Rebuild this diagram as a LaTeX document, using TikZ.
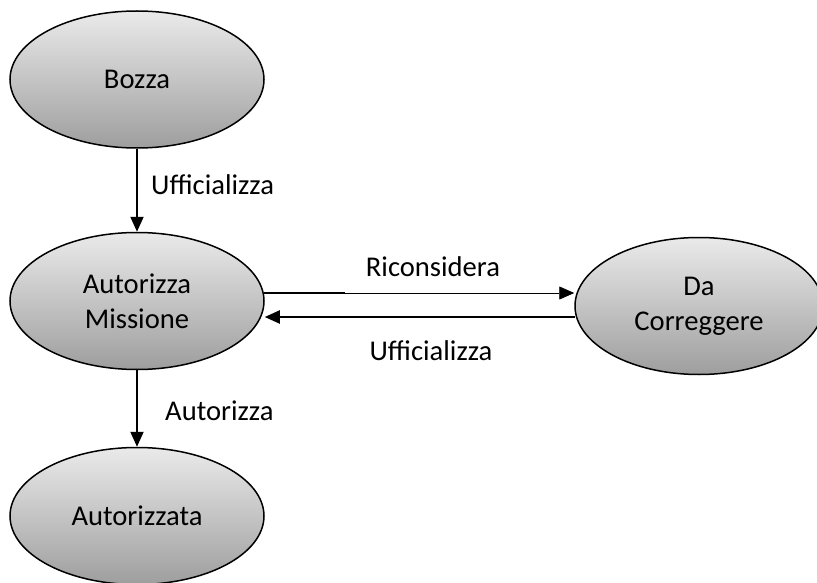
\documentclass[tikz,border=0pt]{standalone}
\usepackage{fontspec}
\setmainfont{Carlito}
\usetikzlibrary{shapes.geometric,arrows.meta}
\definecolor{topc}{RGB}{234,234,234}
\definecolor{botc}{RGB}{158,158,158}
\tikzset{
  state/.style={ellipse,draw=black,line width=1.5pt,top color=topc,bottom color=botc,
    minimum width=254pt,minimum height=137pt,inner sep=0pt,align=center,
    font=\fontsize{28.6}{35}\selectfont},
  lbl/.style={font=\fontsize{28.6}{35}\selectfont,inner sep=0pt},
  conn/.style={line width=2pt,-{Triangle[length=15pt,width=13pt]}},
}
\begin{document}
\begin{tikzpicture}[x=1pt,y=-1pt]
\useasboundingbox (0,0) rectangle (817,583);
\node[state] (bozza) at (137,79.5) {Bozza};
\node[state] (am) at (137,301) {Autorizza\\Missione};
\node[state] (aut) at (137,516) {Autorizzata};
\node[state,minimum width=248pt] (dc) at (699,306) {Da\\Correggere};
% vertical arrows
\draw[conn] (bozza) -- (am);
\draw[conn] (am) -- (aut);
% horizontal arrows
\coordinate (r1) at (264,293);
\coordinate (r2) at (345,293);
\coordinate (u1) at (575,317);
\draw[line width=2pt] (r1) -- (r2);
\draw[line width=0.8pt,-{Triangle[length=15pt,width=13pt]}] (r2) -- (r2 -| dc.west);
\draw[conn] (u1) -- (u1 -| am.east);
% labels
\node[lbl,anchor=west] (l1) at (151,185) {Ufficializza};
\node[lbl] (l2) at (433,267) {Riconsidera};
\node[lbl] (l3) at (431,351) {Ufficializza};
\node[lbl,anchor=west] (l4) at (165,411) {Autorizza};
\end{tikzpicture}
\end{document}
